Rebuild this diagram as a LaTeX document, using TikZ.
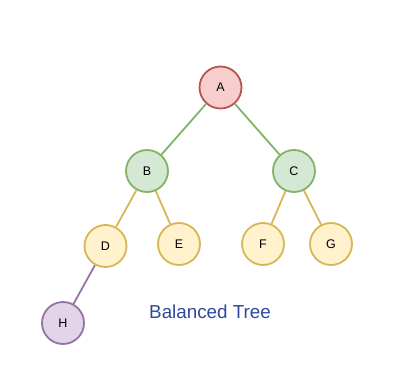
\documentclass[tikz,border=0pt]{standalone}
\usepackage{fontspec}
\setmainfont{Liberation Sans}
\definecolor{redF}{HTML}{F8CECC}\definecolor{redS}{HTML}{B85450}
\definecolor{grnF}{HTML}{D5E8D4}\definecolor{grnS}{HTML}{82B366}
\definecolor{yelF}{HTML}{FFF2CC}\definecolor{yelS}{HTML}{D6B656}
\definecolor{purF}{HTML}{E1D5E7}\definecolor{purS}{HTML}{9673A6}
\definecolor{lbl}{HTML}{2C4A9A}
\begin{document}
\begin{tikzpicture}[x=1pt,y=-1pt,
  tnode/.style={circle,line width=1.8pt,minimum size=42pt,inner sep=0pt,font=\fontsize{12.5}{14}\selectfont},
  rnode/.style={tnode,draw=redS,fill=redF},
  gnode/.style={tnode,draw=grnS,fill=grnF},
  ynode/.style={tnode,draw=yelS,fill=yelF},
  pnode/.style={tnode,draw=purS,fill=purF},
  gedge/.style={draw=grnS,line width=1.8pt},
  yedge/.style={draw=yelS,line width=1.8pt},
  pedge/.style={draw=purS,line width=1.8pt}]
\useasboundingbox (0,0) rectangle (404,374);
\node[rnode] (A) at (220.5,87.5) {A};
\node[gnode] (B) at (147,171) {B};
\node[gnode] (C) at (294,171) {C};
\node[ynode] (D) at (105.5,246) {D};
\node[ynode] (E) at (179,244) {E};
\node[ynode] (F) at (263,244) {F};
\node[ynode] (G) at (331,244) {G};
\node[pnode] (H) at (63,323) {H};
\draw[gedge] (A) -- (B);
\draw[gedge] (A) -- (C);
\draw[yedge] (B) -- (D);
\draw[yedge] (B) -- (E);
\draw[yedge] (C) -- (F);
\draw[yedge] (C) -- (G);
\draw[pedge] (D) -- (H);
\node[text=lbl,font=\fontsize{18.8}{22}\selectfont] (T) at (210,312) {Balanced Tree};
\end{tikzpicture}
\end{document}
